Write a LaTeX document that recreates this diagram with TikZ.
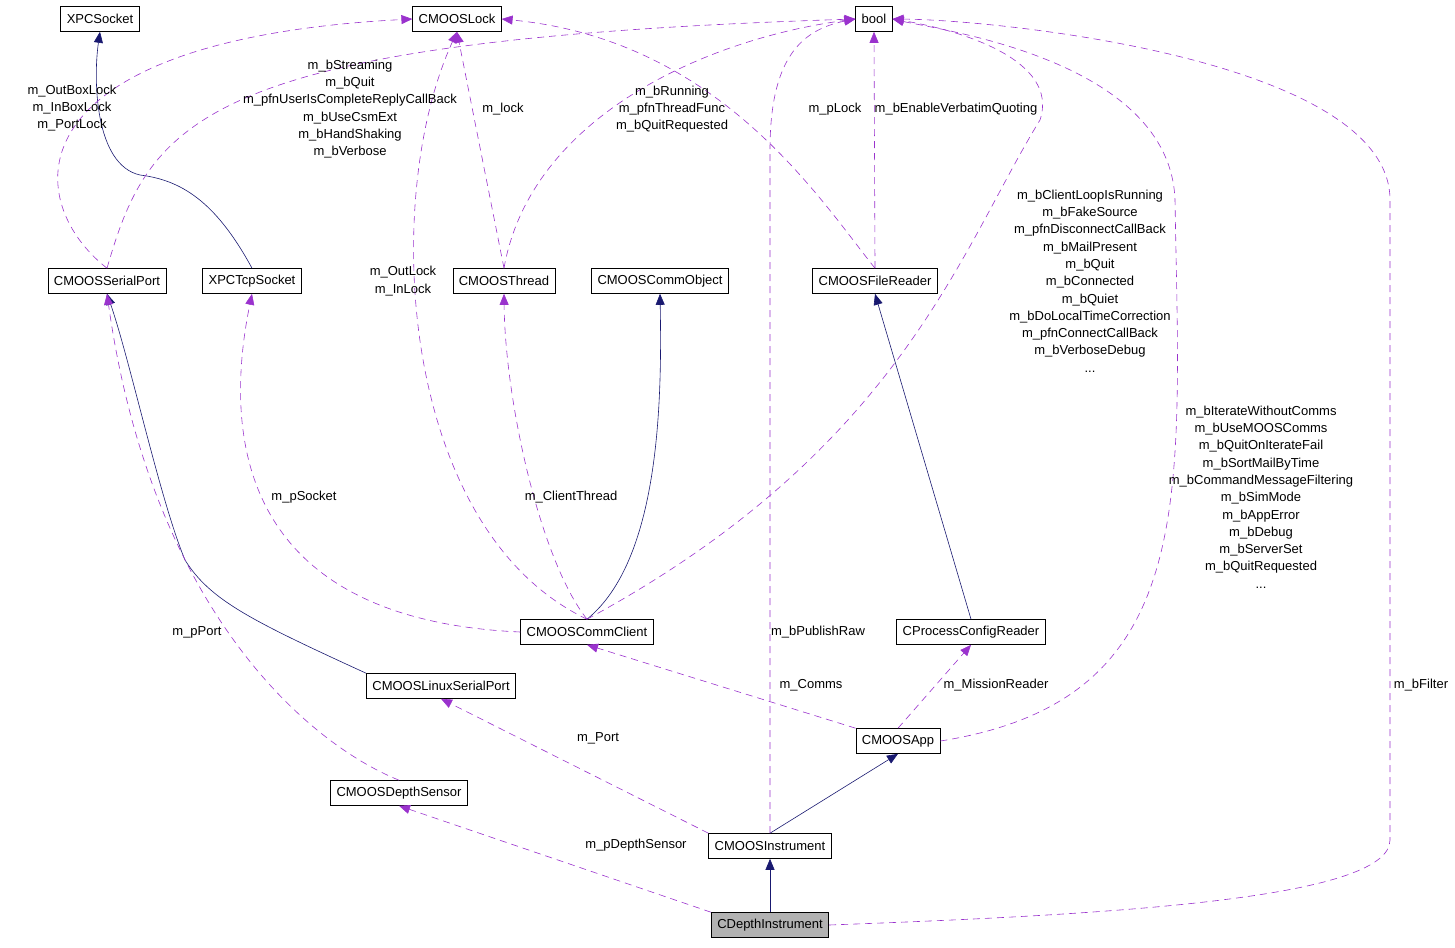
\documentclass[tikz,border=0pt]{standalone}
\usepackage{fontspec}
\setmainfont{Liberation Sans}
\usetikzlibrary{arrows.meta}
\definecolor{usecol}{HTML}{9A32CD}
\definecolor{inhcol}{HTML}{191970}
\begin{document}
\begin{tikzpicture}[x=1pt, y=-1pt,
		cls/.style={draw, semithick, fill=white, font=\fontsize{13}{15}\selectfont, minimum height=25pt, inner xsep=6pt, inner ysep=0pt},
		use/.style={draw=usecol, semithick, dash pattern=on 7pt off 5pt, -{Triangle[length=11pt,width=9pt]}, usecol},
		inh/.style={draw=inhcol, semithick, -{Triangle[length=11pt,width=9pt]}, inhcol},
		lbl/.style={font=\fontsize{13}{17.3}\selectfont, align=center, inner sep=0pt}]
		\useasboundingbox (0,0) rectangle (1455,947);
		% classes
		\node[cls] (XPCSocket) at (100,19) {XPCSocket};
		\node[cls] (CMOOSLock) at (457,19) {CMOOSLock};
		\node[cls] (bool) at (874,19) {bool};
		\node[cls] (SerialPort) at (107,281) {CMOOSSerialPort};
		\node[cls] (TcpSocket) at (252,281) {XPCTcpSocket};
		\node[cls] (Thread) at (504,281) {CMOOSThread};
		\node[cls] (CommObject) at (660,281) {CMOOSCommObject};
		\node[cls] (FileReader) at (875,281) {CMOOSFileReader};
		\node[cls] (CommClient) at (587,632) {CMOOSCommClient};
		\node[cls] (ConfigReader) at (971,632) {CProcessConfigReader};
		\node[cls] (LinuxPort) at (441,686) {CMOOSLinuxSerialPort};
		\node[cls] (App) at (898,741) {CMOOSApp};
		\node[cls] (DepthSensor) at (399,793) {CMOOSDepthSensor};
		\node[cls] (Instrument) at (770,846) {CMOOSInstrument};
		\node[cls, fill=gray!60] (DepthInstr) at (770,925) {CDepthInstrument};
		% inheritance
		\draw[inh] (TcpSocket.north) .. controls (215,200) and (180,180) .. (140,175) .. controls (95,165) and (93,80) .. (XPCSocket.south);
		\draw[inh] (LinuxPort.north west) .. controls (250,620) and (210,600) .. (185,560) .. controls (160,500) and (130,360) .. (SerialPort.south);
		\draw[inh] (CommClient.north) .. controls (660,560) and (662,400) .. (CommObject.south);
		\draw[inh] (ConfigReader.north) -- (FileReader.south);
		\draw[inh] (Instrument.north) -- (App.south);
		\draw[inh] (DepthInstr.north) -- (Instrument.south);
		% usage
		\draw[use] (SerialPort.north) .. controls (20,200) and (10,40) .. (CMOOSLock.west);
		\draw[use] (SerialPort.north) .. controls (150,120) and (200,40) .. (bool.west);
		\draw[use] (CommClient.north) .. controls (400,530) and (380,200) .. (CMOOSLock.south);
		\draw[use] (Thread.north) -- (CMOOSLock.south);
		\draw[use] (Thread.north) .. controls (530,120) and (700,40) .. (bool.west);
		\draw[use] (FileReader.north) .. controls (820,200) and (720,40) .. (CMOOSLock.east);
		\draw[use] (FileReader.north) -- (bool.south);
		\draw[use] (CommClient.north) .. controls (900,450) and (960,250) .. (1040,120) .. controls (1060,60) and (960,30) .. (bool.east);
		\draw[use] (CommClient.west) .. controls (250,620) and (220,450) .. (TcpSocket.south);
		\draw[use] (CommClient.north) .. controls (540,560) and (505,400) .. (Thread.south);
		\draw[use] (DepthSensor.north) .. controls (300,740) and (150,600) .. (SerialPort.south);
		\draw[use] (Instrument.north) -- (770,150) .. controls (770,60) and (800,30) .. (bool.west);
		\draw[use] (App.north west) -- (CommClient.south);
		\draw[use] (App.north) -- (ConfigReader.south);
		\draw[use] (App.east) .. controls (1200,700) and (1180,500) .. (1175,200) .. controls (1170,60) and (940,30) .. (bool.east);
		\draw[use] (Instrument.north west) -- (LinuxPort.south);
		\draw[use] (DepthInstr.north west) -- (DepthSensor.south);
		\draw[use] (DepthInstr.east) .. controls (1100,915) and (1390,900) .. (1390,840) -- (1390,200) .. controls (1390,60) and (1000,20) .. (bool.east);
		% labels
		\node[lbl] (lOutBox) at (72,108) {m\_OutBoxLock\\m\_InBoxLock\\m\_PortLock};
		\node[lbl] (lStreaming) at (350,109) {m\_bStreaming\\m\_bQuit\\m\_pfnUserIsCompleteReplyCallBack\\m\_bUseCsmExt\\m\_bHandShaking\\m\_bVerbose};
		\node[lbl] (lOutLock) at (403,281) {m\_OutLock\\m\_InLock};
		\node[lbl] (lLock) at (503,109) {m\_lock};
		\node[lbl] (lRunning) at (672,109) {m\_bRunning\\m\_pfnThreadFunc\\m\_bQuitRequested};
		\node[lbl] (lPLock) at (835,109) {m\_pLock};
		\node[lbl] (lVerbatim) at (956,109) {m\_bEnableVerbatimQuoting};
		\node[lbl] (lClient) at (1090,281) {m\_bClientLoopIsRunning\\m\_bFakeSource\\m\_pfnDisconnectCallBack\\m\_bMailPresent\\m\_bQuit\\m\_bConnected\\m\_bQuiet\\m\_bDoLocalTimeCorrection\\m\_pfnConnectCallBack\\m\_bVerboseDebug\\...};
		\node[lbl] (lSocket) at (304,497) {m\_pSocket};
		\node[lbl] (lClientThread) at (571,497) {m\_ClientThread};
		\node[lbl] (lPPort) at (197,632) {m\_pPort};
		\node[lbl] (lPublishRaw) at (818,632) {m\_bPublishRaw};
		\node[lbl] (lComms) at (811,685) {m\_Comms};
		\node[lbl] (lMission) at (996,685) {m\_MissionReader};
		\node[lbl] (lIterate) at (1261,497) {m\_bIterateWithoutComms\\m\_bUseMOOSComms\\m\_bQuitOnIterateFail\\m\_bSortMailByTime\\m\_bCommandMessageFiltering\\m\_bSimMode\\m\_bAppError\\m\_bDebug\\m\_bServerSet\\m\_bQuitRequested\\...};
		\node[lbl] (lPort) at (598,738) {m\_Port};
		\node[lbl] (lDepth) at (636,845) {m\_pDepthSensor};
		\node[lbl] (lFilter) at (1421,685) {m\_bFilter};
\end{tikzpicture}
\end{document}
